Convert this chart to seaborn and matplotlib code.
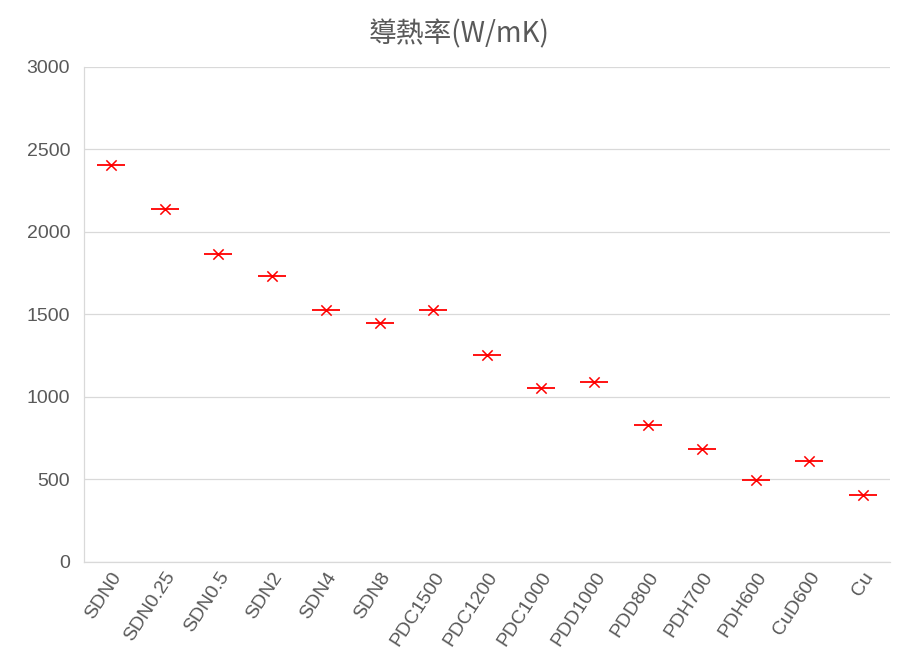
import pandas as pd
import matplotlib
matplotlib.use("Agg")
import matplotlib.pyplot as plt
import seaborn as sns

samples = ["SDN0", "SDN0.25", "SDN0.5", "SDN2", "SDN4", "SDN8", "PDC1500", "PDC1200",
           "PDC1000", "PDD1000", "PDD800", "PDH700", "PDH600", "CuD600", "Cu"]
conductivity = [2405, 2140, 1867, 1733, 1528, 1448, 1528, 1255,
                1055, 1091, 830, 685, 497, 612, 404]

df = pd.DataFrame({"Sample": samples, "k": conductivity})

sns.set_style("white")
plt.rcParams["font.family"] = ["Liberation Sans", "DejaVu Sans"]

fig = plt.figure(figsize=(9.18, 6.69), dpi=100)
ax = fig.add_axes([0.0915, 0.16, 0.878, 0.74])

sns.scatterplot(data=df, x="Sample", y="k", marker="_", s=380, color="#ff0000",
                linewidth=1.3, ax=ax, zorder=3)
sns.scatterplot(data=df, x="Sample", y="k", marker="x", s=55, color="#ff0000",
                linewidth=1.1, ax=ax, zorder=4)

ax.set_xlim(-0.5, len(samples) - 0.5)
ax.set_ylim(0, 3000)
ax.set_yticks(range(0, 3001, 500))
ax.yaxis.grid(True, color="#d9d9d9", linewidth=0.9)
ax.set_axisbelow(True)
for s in ["top", "right"]:
    ax.spines[s].set_visible(False)
for s in ["left", "bottom"]:
    ax.spines[s].set_color("#d9d9d9")
    ax.spines[s].set_linewidth(0.9)

ax.tick_params(axis="both", length=0, colors="#595959", labelsize=14)
ax.tick_params(axis="y", pad=10)
ax.tick_params(axis="x", pad=5)
plt.setp(ax.get_xticklabels(), rotation=57, ha="right", rotation_mode="anchor")
ax.set_xlabel("")
ax.set_ylabel("")
fig.text(0.5, 0.949, "導熱率(W/mK)", fontsize=20, color="#595959",
         ha="center", va="center", family=["Noto Sans CJK TC", "DejaVu Sans"])

fig.savefig("out.png", dpi=100)
